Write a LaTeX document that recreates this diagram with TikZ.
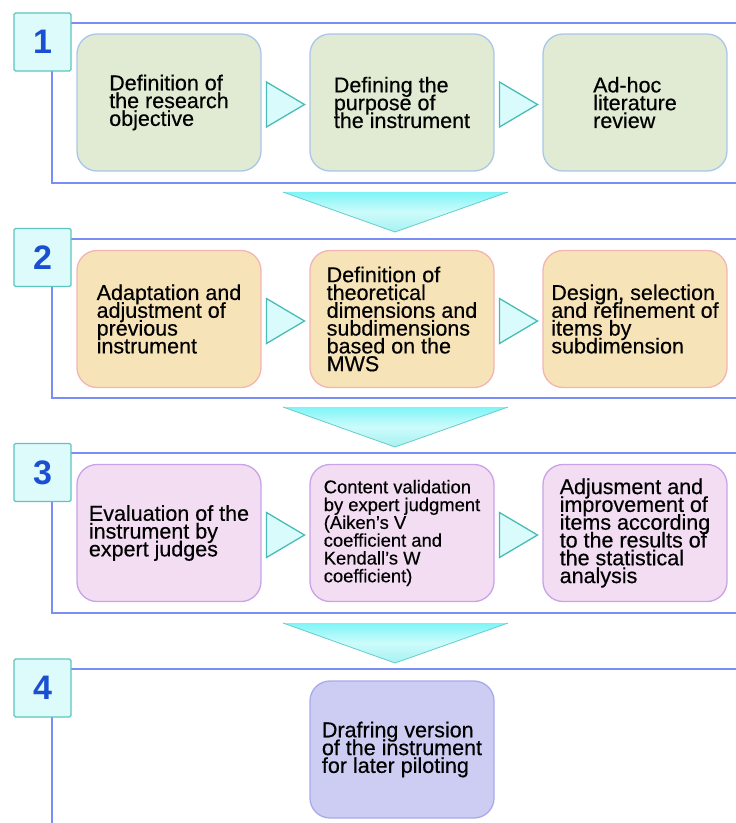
\documentclass[tikz,border=0pt]{standalone}
\usepackage{fontspec}
\setmainfont{Liberation Sans}
\newfontfamily\boxfont[FakeBold=0.4]{Liberation Sans}
\usetikzlibrary{calc}

% fixed line pitch, even when descenders touch ascenders
\newcommand\boxlines{\lineskiplimit=-100pt\relax\lineskip=0pt\relax}

\definecolor{frameblue}{HTML}{7B8EF5}
\definecolor{numfill}{HTML}{DDFBFB}
\definecolor{numdraw}{HTML}{5CC5BE}
\definecolor{numtext}{HTML}{1B4FD1}
\definecolor{greenfill}{HTML}{E1EBD3}
\definecolor{greendraw}{HTML}{A8C7EA}
\definecolor{tanfill}{HTML}{F6E3B7}
\definecolor{tandraw}{HTML}{F3B5B3}
\definecolor{pinkfill}{HTML}{F2DDF2}
\definecolor{pinkdraw}{HTML}{C9A2EA}
\definecolor{lavfill}{HTML}{CDCDF3}
\definecolor{lavdraw}{HTML}{A9A9EE}
\definecolor{arrowfill}{HTML}{DAFBFB}
\definecolor{arrowdraw}{HTML}{48BDB6}
\definecolor{downtop}{HTML}{7FF5F7}
\definecolor{downmid}{HTML}{CDFBFB}
\definecolor{downbot}{HTML}{A6F1F1}
\definecolor{downedge}{HTML}{66CCCC}

\tikzset{
  frame/.style={draw=frameblue, line width=2.6pt},
  numbox/.style={draw=numdraw, fill=numfill, line width=1.3pt, rounded corners=1.5pt,
    minimum width=57pt, minimum height=58pt, inner sep=0pt,
    text=numtext, font=\fontsize{34}{34}\selectfont\bfseries},
  stepbox/.style={line width=1.3pt, rounded corners=20pt, minimum width=184pt,
    minimum height=137pt, inner sep=0pt, align=left,
    font=\boxfont\fontsize{21.5}{17.8}\selectfont\boxlines},
  smalltext/.style={font=\boxfont\fontsize{18.4}{17.8}\selectfont\boxlines},
  green/.style={stepbox, fill=greenfill, draw=greendraw},
  tan/.style={stepbox, fill=tanfill, draw=tandraw},
  pink/.style={stepbox, fill=pinkfill, draw=pinkdraw},
  lav/.style={stepbox, fill=lavfill, draw=lavdraw},
  rarrow/.style={fill=arrowfill, draw=arrowdraw, line width=1.3pt, line join=miter},
  downfill/.style={top color=downtop, bottom color=downbot, middle color=downmid},
  downline/.style={draw=downedge, line width=0.8pt}
}

\begin{document}
\begin{tikzpicture}[x=1pt, y=-1pt]
\useasboundingbox (0,0) rectangle (736,823);
\clip (0,0) rectangle (736,823);

% panel frames (open on the right)
\draw[frame] (745,23) -- (52,23) -- (52,183) -- (745,183);
\draw[frame] (745,239) -- (52,239) -- (52,398) -- (745,398);
\draw[frame] (745,453) -- (52,453) -- (52,613) -- (745,613);
\draw[frame] (745,669) -- (52,669) -- (52,830);

% downward transition triangles
\foreach \t in {192,407,623} {
  \shade[downfill] (283,\t) -- (508,\t) -- (395,\t+40) -- cycle;
  \draw[downline] (283,\t) -- (395,\t+40) -- (508,\t);
}

% stage numbers
\node[numbox] (n1) at (42.5,42) {1};
\node[numbox] (n2) at (42.5,257.5) {2};
\node[numbox] (n3) at (42.5,472.5) {3};
\node[numbox] (n4) at (42.5,688) {4};

% stage 1
\node[green] (a1) at (169,102.5) {Definition of\\the research\\objective};
\node[green] (a2) at (402,102.5) {Defining the\\purpose of\\the instrument};
\node[green] (a3) at (635,102.5) {Ad-hoc\\literature\\review};

% stage 2
\node[tan] (b1) at (169,319) {Adaptation and\\adjustment of\\previous\\instrument};
\node[tan] (b2) at (402,319) {Definition of\\theoretical\\dimensions and\\subdimensions\\based on the\\MWS};
\node[tan] (b3) at (635,319) {Design, selection\\and refinement of\\items by\\subdimension};

% stage 3
\node[pink] (c1) at (169,533) {Evaluation of the\\instrument by\\expert judges};
\node[pink, smalltext] (c2) at (402,533) {Content validation\\by expert judgment\\(Aiken’s V\\coefficient and\\Kendall’s W\\coefficient)};
\node[pink] (c3) at (635,533) {Adjusment and\\improvement of\\items according\\to the results of\\the statistical\\analysis};

% stage 4
\node[lav] (d1) at (402,749.5) {Drafring version\\of the instrument\\for later piloting};

% arrows between steps
\foreach \p/\q in {a1/a2,a2/a3,b1/b2,b2/b3,c1/c2,c2/c3} {
  \draw[rarrow] ($(\p.east)!0.5!(\q.west)+(-19,-20.5)$) -- ++(38,22.5) -- ++(-38,22.5) -- cycle;
}
\end{tikzpicture}
\end{document}
